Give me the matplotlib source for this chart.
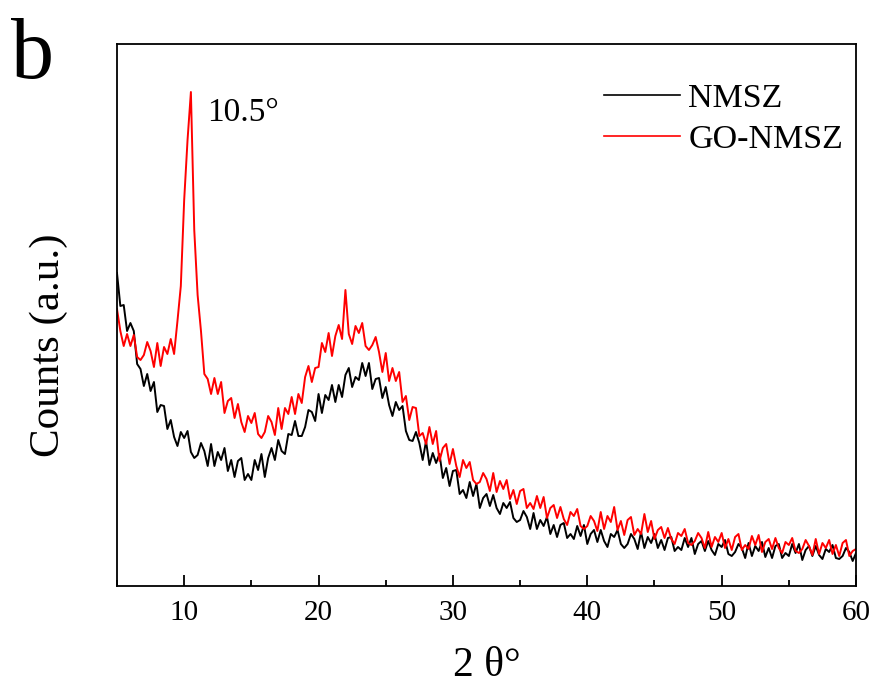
import matplotlib
matplotlib.use("Agg")
import matplotlib.pyplot as plt
import numpy as np
from matplotlib.ticker import MultipleLocator

plt.rcParams['font.family'] = ['Liberation Serif', 'DejaVu Serif']

# 2 theta grid, 0.25 deg step from 5 to 60
two_theta = np.arange(5, 60.001, 0.25)

# NMSZ counts (a.u.), 4 points per degree
nmsz = [
    313, 280, 281, 255,   # 5
    263, 255, 222, 217,   # 6
    200, 212, 195, 204,   # 7
    174, 181, 180, 157,   # 8
    166, 149, 140, 154,   # 9
    148, 155, 134, 128,   # 10
    131, 143, 135, 120,   # 11
    142, 120, 134, 126,   # 12
    138, 115, 126, 109,   # 13
    125, 128, 106, 112,   # 14
    106, 126, 116, 132,   # 15
    109, 128, 138, 126,   # 16
    146, 135, 132, 152,   # 17
    151, 165, 150, 150,   # 18
    159, 176, 174, 165,   # 19
    192, 173, 191, 186,   # 20
    201, 184, 201, 189,   # 21
    211, 218, 199, 209,   # 22
    206, 223, 210, 223,   # 23
    197, 207, 208, 188,   # 24
    199, 181, 170, 184,   # 25
    176, 180, 155, 146,   # 26
    145, 154, 143, 126,   # 27
    145, 121, 133, 123,   # 28
    132, 108, 118, 100,   # 29
    115, 116, 92, 96,     # 30
    88, 104, 90, 102,     # 31
    78, 88, 92, 80,       # 32
    91, 78, 72, 83,       # 33
    78, 84, 68, 64,       # 34
    66, 75, 69, 57,       # 35
    73, 57, 66, 60,       # 36
    69, 52, 61, 49,       # 37
    61, 63, 48, 52,       # 38
    47, 60, 50, 61,       # 39
    42, 52, 56, 44,       # 40
    56, 45, 39, 52,       # 41
    49, 56, 42, 38,       # 42
    42, 52, 47, 37,       # 43
    54, 38, 49, 43,       # 44
    52, 38, 46, 36,       # 45
    48, 49, 35, 39,       # 46
    36, 48, 39, 48,       # 47
    32, 42, 45, 35,       # 48
    45, 36, 31, 42,       # 49
    39, 46, 32, 30,       # 50
    34, 42, 38, 28,       # 51
    43, 30, 40, 35,       # 52
    44, 29, 38, 28,       # 53
    40, 42, 28, 33,       # 54
    30, 42, 33, 42,       # 55
    26, 36, 40, 30,       # 56
    40, 31, 27, 37,       # 57
    34, 41, 28, 27,       # 58
    30, 38, 34, 25,       # 59
    33,                   # 60
]

# GO-NMSZ counts (a.u.)
go_nmsz = [
    277, 255, 240, 252,   # 5
    240, 251, 229, 226,   # 6
    231, 244, 235, 219,   # 7
    243, 220, 239, 232,   # 8
    247, 232, 265, 300,   # 9
    386, 446, 494, 356,   # 10
    291, 255, 212, 207,   # 11
    192, 208, 192, 204,   # 12
    173, 185, 188, 168,   # 13
    182, 164, 154, 170,   # 14
    163, 173, 152, 148,   # 15
    154, 170, 164, 151,   # 16
    178, 157, 178, 172,   # 17
    189, 172, 192, 183,   # 18
    209, 220, 204, 218,   # 19
    219, 243, 234, 253,   # 20
    230, 250, 261, 247,   # 21
    296, 252, 242, 260,   # 22
    253, 263, 240, 236,   # 23
    241, 249, 234, 214,   # 24
    233, 205, 218, 205,   # 25
    214, 184, 190, 166,   # 26
    179, 178, 150, 153,   # 27
    142, 159, 142, 155,   # 28
    125, 138, 142, 122,   # 29
    137, 120, 109, 126,   # 30
    118, 124, 106, 102,   # 31
    104, 113, 107, 95,    # 32
    113, 94, 105, 97,     # 33
    106, 87, 96, 82,      # 34
    95, 97, 78, 83,       # 35
    77, 90, 78, 89,       # 36
    68, 78, 81, 68,       # 37
    79, 67, 61, 74,       # 38
    70, 77, 60, 57,       # 39
    60, 70, 65, 55,       # 40
    74, 57, 70, 64,       # 41
    79, 56, 65, 51,       # 42
    66, 69, 51, 57,       # 43
    52, 72, 54, 65,       # 44
    47, 56, 59, 48,       # 45
    58, 47, 42, 53,       # 46
    50, 57, 43, 41,       # 47
    45, 53, 48, 38,       # 48
    54, 39, 49, 44,       # 49
    53, 38, 47, 36,       # 50
    49, 52, 36, 41,       # 51
    37, 50, 41, 51,       # 52
    34, 44, 47, 37,       # 53
    48, 38, 33, 44,       # 54
    41, 48, 35, 33,       # 55
    37, 46, 40, 31,       # 56
    47, 32, 43, 38,       # 57
    46, 32, 41, 30,       # 58
    43, 46, 30, 35,       # 59
    37,                   # 60
]

labels = ['NMSZ', 'GO-NMSZ']
colors = ['black', 'red']
x_ticks = [10, 20, 30, 40, 50, 60]

fig = plt.figure(figsize=(8.77, 6.93), dpi=100)
ax = fig.add_axes([0.1334, 0.1544, 0.8427, 0.7821])

ax.plot(two_theta, nmsz, color=colors[0], lw=1.4, label=labels[0])
ax.plot(two_theta, go_nmsz, color=colors[1], lw=1.4, label=labels[1])

ax.set_xlim(5, 60)
ax.set_ylim(0, 542)
ax.set_xticks(x_ticks)
ax.xaxis.set_minor_locator(MultipleLocator(5))
ax.set_yticks([])
ax.tick_params(axis='x', which='major', direction='in', length=8, width=1.3,
               labelsize=21, pad=10, top=False)
ax.tick_params(axis='x', which='minor', direction='in', length=4.5, width=1.3, top=False)
for s in ax.spines.values():
    s.set_linewidth(1.3)

ax.set_xlabel('2 θ°', fontsize=30, labelpad=15)
ax.set_ylabel('Counts (a.u.)', fontsize=31)
ax.yaxis.set_label_coords(-0.066, 0.445)

# annotation du pic
ax.text(11.7, 473, '10.5°', fontsize=24, ha='left', va='center')

leg = ax.legend(loc='upper right', frameon=False, fontsize=24.5, handlelength=2.24,
                handletextpad=0.24, labelspacing=0.3, bbox_to_anchor=(1.024, 0.985))
for line in leg.get_lines():
    line.set_linewidth(1.2)

fig.text(0.012, 0.888, 'b', fontsize=62, ha='left', va='baseline')

fig.savefig('out.png', dpi=100)
